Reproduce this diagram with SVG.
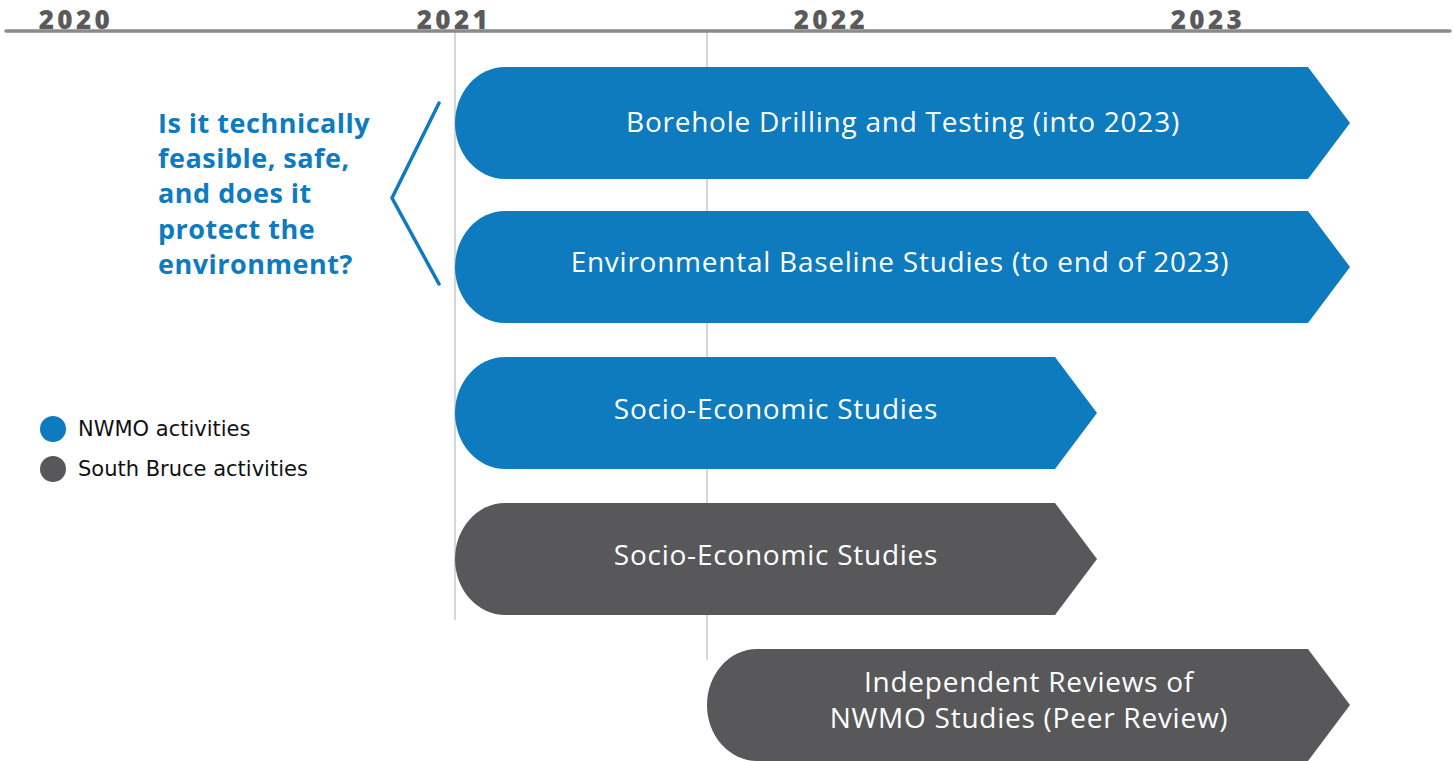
<svg xmlns="http://www.w3.org/2000/svg" width="1454" height="761" viewBox="0 0 1454 761">
<style>
.year{font-family:"Open Sans","Liberation Sans",sans-serif;font-weight:800;font-size:26px;letter-spacing:3.4px;fill:#5a5a5c;text-anchor:middle}
.blue{fill:#0e7bbf}
.gray{fill:#58585a}
.lbl{font-family:"Open Sans","Liberation Sans",sans-serif;font-weight:500;font-size:28px;letter-spacing:0.75px;fill:#ffffff;text-anchor:middle}
.q{font-family:"Open Sans","Liberation Sans",sans-serif;font-weight:700;font-size:27px;letter-spacing:0.5px;fill:#0e7bbf}
.leg{font-family:"DejaVu Sans",sans-serif;font-size:21px;fill:#111}
.vline{stroke:#c8c8c8;stroke-width:1.5}
</style>
<rect width="1454" height="761" fill="#ffffff"/>
<g id="timeline">
<line class="vline" x1="455" y1="32" x2="455" y2="620"/>
<line class="vline" x1="707" y1="32" x2="707" y2="660"/>
<line x1="6" y1="31" x2="1450" y2="31" stroke="#8a8a8a" stroke-width="3.5" stroke-linecap="round"/>
<text class="year" x="76" y="28.5">2020</text>
<text class="year" x="454" y="28.5">2021</text>
<text class="year" x="831" y="28.5">2022</text>
<text class="year" x="1208" y="28.5">2023</text>
</g>
<g id="question">
<polyline points="439,103 392,198 439,284" fill="none" stroke="#0e7bbf" stroke-width="3.5" stroke-linecap="round" stroke-linejoin="round"/>
<text class="q" x="158" y="133">Is it technically</text>
<text class="q" x="158" y="168">feasible, safe,</text>
<text class="q" x="158" y="203">and does it</text>
<text class="q" x="158" y="239">protect the</text>
<text class="q" x="158" y="274">environment?</text>
</g>
<g id="bar-borehole">
<path class="blue" d="M505,67 H1308 L1350,123 L1308,179 H505 A50,56 0 0 1 455,123 A50,56 0 0 1 505,67 Z"/>
<text class="lbl" x="903" y="132">Borehole Drilling and Testing (into 2023)</text>
</g>
<g id="bar-environmental">
<path class="blue" d="M505,211 H1308 L1350,267 L1308,323 H505 A50,56 0 0 1 455,267 A50,56 0 0 1 505,211 Z"/>
<text class="lbl" x="900" y="272">Environmental Baseline Studies (to end of 2023)</text>
</g>
<g id="bar-socio-nwmo">
<path class="blue" d="M505,357 H1055 L1097,413 L1055,469 H505 A50,56 0 0 1 455,413 A50,56 0 0 1 505,357 Z"/>
<text class="lbl" x="776" y="419">Socio-Economic Studies</text>
</g>
<g id="bar-socio-southbruce">
<path class="gray" d="M505,503 H1055 L1097,559 L1055,615 H505 A50,56 0 0 1 455,559 A50,56 0 0 1 505,503 Z"/>
<text class="lbl" x="776" y="565">Socio-Economic Studies</text>
</g>
<g id="bar-independent">
<path class="gray" d="M757,649 H1308 L1350,705 L1308,761 H757 A50,56 0 0 1 707,705 A50,56 0 0 1 757,649 Z"/>
<text class="lbl" x="1029" y="692">Independent Reviews of</text>
<text class="lbl" x="1029" y="728">NWMO Studies (Peer Review)</text>
</g>
<g id="legend">
<circle class="blue" cx="53" cy="429" r="13"/>
<text class="leg" x="78" y="436">NWMO activities</text>
<circle class="gray" cx="53" cy="469" r="13"/>
<text class="leg" x="78" y="476">South Bruce activities</text>
</g>
</svg>
